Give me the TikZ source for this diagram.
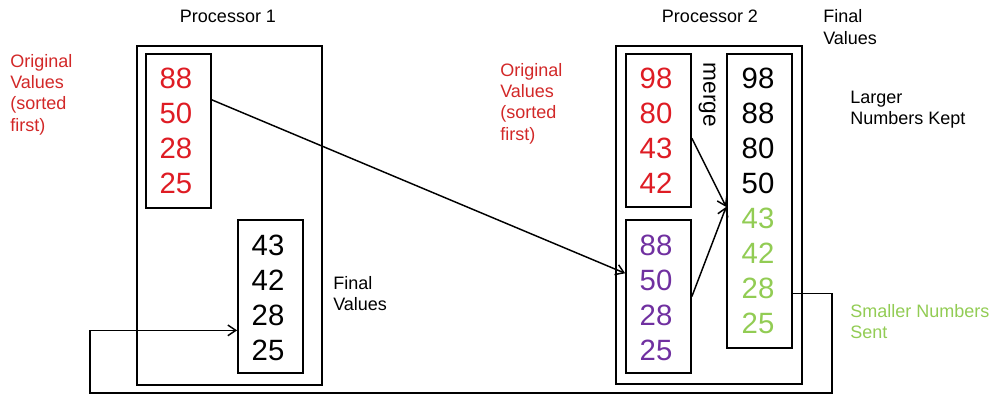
\documentclass[tikz,border=0pt]{standalone}
\usepackage{fontspec}
\setmainfont{Liberation Sans}
\usetikzlibrary{arrows.meta,calc}

\definecolor{valred}{RGB}{222,28,36}
\definecolor{lblred}{RGB}{210,40,40}
\definecolor{valpurple}{RGB}{112,48,160}
\definecolor{valgreen}{RGB}{146,204,84}

\begin{document}
\begin{tikzpicture}[x=0.75pt,y=-0.75pt,
  frame/.style={draw=black,line width=1.3pt,inner sep=0pt},
  numbox/.style={draw=black,line width=1.3pt,inner sep=0pt,minimum width=65*0.75pt},
  num/.style={font=\fontsize{22}{24}\selectfont,inner sep=0pt},
  lbl/.style={font=\fontsize{13.5}{16}\selectfont,align=left,inner sep=0pt,anchor=west},
  ttl/.style={font=\fontsize{13.5}{16}\selectfont,inner sep=0pt},
  conn/.style={line width=1.1pt,-{Straight Barb[length=6pt,width=8pt]}},
  wire/.style={line width=1.1pt}]

\useasboundingbox (0,0) rectangle (994,395);

% processor frames
\node[frame,minimum width=185*0.75pt,minimum height=339*0.75pt] (proc1) at (229.5,215.5) {};
\node[frame,minimum width=186*0.75pt,minimum height=338*0.75pt] (proc2) at (709,215) {};

% value boxes
\node[numbox,minimum height=154*0.75pt] (p1orig) at (178.5,131) {};
\node[numbox,minimum height=153*0.75pt] (p1final) at (270.5,296.5) {};
\node[numbox,minimum height=153*0.75pt] (p2orig) at (658.5,130.5) {};
\node[numbox,minimum height=153*0.75pt] (p2recv) at (658.5,296.5) {};
\node[numbox,minimum height=294*0.75pt] (p2final) at (759.5,201) {};

% values in processor 1
\foreach \v [count=\i from 0] in {88,50,28,25}
  \node[num,text=valred] (a\i) at (176,78+35*\i) {\v};
\foreach \v [count=\i from 0] in {43,42,28,25}
  \node[num] (b\i) at (268,245+35*\i) {\v};

% values in processor 2
\foreach \v [count=\i from 0] in {98,80,43,42}
  \node[num,text=valred] (c\i) at (656,78+35*\i) {\v};
\foreach \v [count=\i from 0] in {88,50,28,25}
  \node[num,text=valpurple] (d\i) at (656,245+35*\i) {\v};
\foreach \v [count=\i from 0] in {98,88,80,50}
  \node[num] (e\i) at (758,78+35*\i) {\v};
\foreach \v [count=\i from 0] in {43,42,28,25}
  \node[num,text=valgreen] (f\i) at (758,218+35*\i) {\v};

% titles and labels
\node[ttl] (t1) at (228,16) {Processor 1};
\node[ttl] (t2) at (710,16) {Processor 2};
\node[lbl,text=lblred] (l1) at (10,94.5) {Original\\Values\\(sorted\\first)};
\node[lbl,text=lblred] (l2) at (500,103.5) {Original\\Values\\(sorted\\first)};
\node[lbl] (l3) at (333,293.5) {Final\\Values};
\node[lbl] (l4) at (823,27) {Final\\Values};
\node[lbl] (l5) at (850,110) {Larger\\Numbers Kept};
\node[lbl,text=valgreen] (l6) at (850,321.5) {Smaller Numbers\\Sent};
\node[font=\fontsize{17}{20}\selectfont,rotate=-90,inner sep=0pt] (mg) at (707,95) {merge};

% exchange of values
\draw[conn] ($(p1orig.north east)!0.3!(p1orig.south east)$) --
            ($(p2recv.north west)!0.35!(p2recv.south west)$);

% merge into the final list
\coordinate (mergein) at ($(p2final.north west)!0.52!(p2final.south west)$);
\draw[conn] ($(p2orig.north east)!0.55!(p2orig.south east)$) -- (mergein);
\draw[conn] ($(p2recv.north east)!0.5!(p2recv.south east)$) -- (mergein);

% smaller numbers sent back
\coordinate (sendout) at ($(p2final.north east)!0.813!(p2final.south east)$);
\coordinate (recvin) at ($(p1final.north west)!0.719!(p1final.south west)$);
\coordinate (rightturn) at (832,293);
\coordinate (leftturn) at (90,393);
\draw[conn] (sendout) -- (sendout -| rightturn) |- (leftturn) |- (recvin);

\end{tikzpicture}
\end{document}
